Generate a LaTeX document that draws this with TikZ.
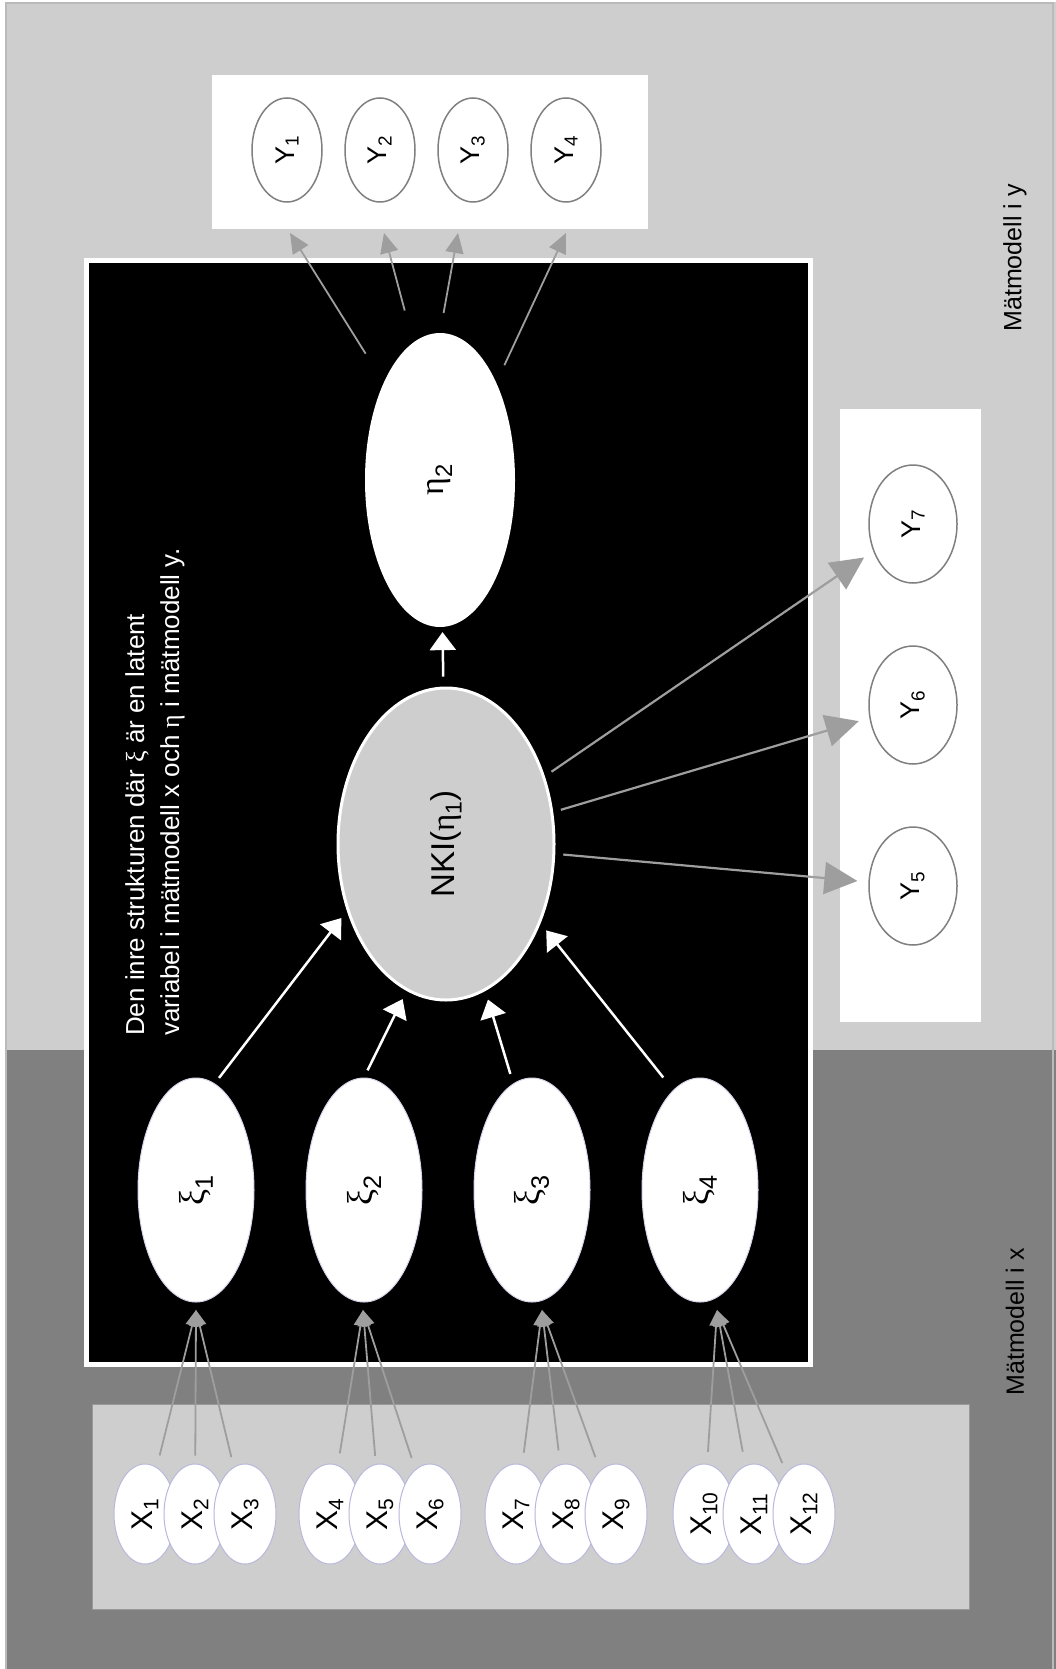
\documentclass[tikz,border=0pt]{standalone}
\usepackage{fontspec}
\setmainfont{Liberation Sans}
\newfontfamily\greekfont{Liberation Serif}
\usepackage{graphicx}
\usetikzlibrary{shapes.geometric, arrows.meta, positioning}
\definecolor{lightbg}{RGB}{206,206,206}
\definecolor{darkbg}{RGB}{128,128,128}
\definecolor{framegray}{RGB}{186,186,186}
\definecolor{arrowgray}{RGB}{158,158,158}
\definecolor{rimblue}{RGB}{184,184,220}
\newcommand{\rt}[1]{\rotatebox{90}{#1}}
\newcommand{\gr}[1]{{\greekfont #1}}
\tikzset{
    latent/.style={ellipse, fill=white, draw=rimblue!60, line width=1pt, minimum width=116pt, minimum height=224pt, inner sep=0pt, font=\fontsize{36}{40}\selectfont},
    etanode/.style={ellipse, fill=white, minimum width=150pt, minimum height=294pt, inner sep=0pt, font=\fontsize{34}{38}\selectfont},
    nkinode/.style={ellipse, fill=lightbg, draw=white, line width=3pt, minimum width=216pt, minimum height=312pt, inner sep=0pt, font=\fontsize{33}{37}\selectfont},
    yvar/.style={ellipse, fill=white, draw=gray, line width=1.5pt, minimum width=70pt, minimum height=104pt, inner sep=0pt, font=\fontsize{27}{30}\selectfont},
    yvarb/.style={yvar, minimum width=88pt, minimum height=118pt},
    xvar/.style={ellipse, fill=white, draw=rimblue, line width=1pt, minimum width=62pt, minimum height=100pt, inner sep=0pt, font=\fontsize{30}{34}\selectfont},
    grayarrow/.style={draw=arrowgray, line width=1.8pt, -{Triangle[length=16pt, width=13pt]}},
    midarrow/.style={draw=arrowgray, line width=1.8pt, -{Triangle[length=20pt, width=18pt]}},
    bigarrow/.style={draw=arrowgray, line width=2.2pt, -{Triangle[length=33pt, width=32pt]}},
    whitearrow/.style={draw=white, line width=2.5pt, -{Triangle[length=18pt, width=26pt]}},
    sidelabel/.style={rotate=90, inner sep=0pt, font=\fontsize{25}{30}\selectfont},
}

\begin{document}
\begin{tikzpicture}[x=1pt, y=-1pt, node distance=50pt]
  \useasboundingbox (0,0) rectangle (1056,1669);
  % backgrounds
  \fill[white] (0,0) rectangle (1056,1669);
  \fill[lightbg] (5,2) rectangle (1056,1050);
  \fill[darkbg] (5,1050) rectangle (1056,1669);
  \draw[framegray, line width=2pt] (6,1669) -- (6,3) -- (1053,3) -- (1053,1669);
  \fill[white] (212,75) rectangle (648,229);
  \fill[white] (840,409) rectangle (981,1022);
  \filldraw[fill=black, draw=white, line width=5pt] (86.5,260.5) rectangle (810.5,1364.5);
  \filldraw[fill=lightbg, draw=gray!80, line width=1pt] (92,1404) rectangle (969,1609);

  % structural model
  \node[etanode] (eta2) at (440,480) {\rt{\gr{η}\textsubscript{2}}};
  \node[nkinode] (NKI) at (446,844) {\rt{NKI(\gr{η}\textsubscript{1})}};
  \node[latent] (xi1) at (196,1190) {\rt{\gr{ξ}\textsubscript{1}}};
  \node[latent, node distance=168pt] (xi2) [right of=xi1] {\rt{\gr{ξ}\textsubscript{2}}};
  \node[latent, node distance=168pt] (xi3) [right of=xi2] {\rt{\gr{ξ}\textsubscript{3}}};
  \node[latent, node distance=168pt] (xi4) [right of=xi3] {\rt{\gr{ξ}\textsubscript{4}}};

  % measurement model y
  \node[yvar] (Y1) at (287,150) {\rt{Y\textsubscript{1}}};
  \node[yvar, node distance=93pt] (Y2) [right of=Y1] {\rt{Y\textsubscript{2}}};
  \node[yvar, node distance=93pt] (Y3) [right of=Y2] {\rt{Y\textsubscript{3}}};
  \node[yvar, node distance=93pt] (Y4) [right of=Y3] {\rt{Y\textsubscript{4}}};
  \node[yvarb] (Y5) at (913,886) {\rt{Y\textsubscript{5}}};
  \node[yvarb, node distance=181pt] (Y6) [above of=Y5] {\rt{Y\textsubscript{6}}};
  \node[yvarb, node distance=181pt] (Y7) [above of=Y6] {\rt{Y\textsubscript{7}}};

  % measurement model x
  \node[xvar] (X1) at (145,1514) {\rt{X\textsubscript{1}}};
  \node[xvar] (X2) [right of=X1] {\rt{X\textsubscript{2}}};
  \node[xvar] (X3) [right of=X2] {\rt{X\textsubscript{3}}};
  \node[xvar, node distance=85pt] (X4) [right of=X3] {\rt{X\textsubscript{4}}};
  \node[xvar] (X5) [right of=X4] {\rt{X\textsubscript{5}}};
  \node[xvar] (X6) [right of=X5] {\rt{X\textsubscript{6}}};
  \node[xvar, node distance=86pt] (X7) [right of=X6] {\rt{X\textsubscript{7}}};
  \node[xvar] (X8) [right of=X7] {\rt{X\textsubscript{8}}};
  \node[xvar] (X9) [right of=X8] {\rt{X\textsubscript{9}}};
  \node[xvar, node distance=88pt] (X10) [right of=X9] {\rt{X\textsubscript{10}}};
  \node[xvar] (X11) [right of=X10] {\rt{X\textsubscript{11}}};
  \node[xvar] (X12) [right of=X11] {\rt{X\textsubscript{12}}};

  % texts
  \node[sidelabel] (mmy) at (1015,258) {Mätmodell i y};
  \node[sidelabel] (mmx) at (1015,1322) {Mätmodell i x};
  \node[rotate=90, anchor=west, align=left, text=white, inner sep=0pt, font=\fontsize{26}{35}\selectfont] (note) at (155,1036)
    {Den inre strukturen där \gr{ξ} är en latent\\variabel i mätmodell x och \gr{η} i mätmodell y.};

  % arrow ports
  \coordinate (y1in) at (290,233);
  \coordinate (y2in) at (384,233);
  \coordinate (y3in) at (458,233);
  \coordinate (y4in) at (566,233);
  \coordinate (xi1in) at (196,1310);
  \coordinate (xi2in) at (363,1310);
  \coordinate (xi3in) at (542,1310);
  \coordinate (xi4in) at (717,1310);

  % structural paths
  \draw[whitearrow, shorten <=10pt, shorten >=5pt] (NKI) -- (eta2);
  \draw[whitearrow, shorten <=7pt, shorten >=9pt] (xi1.80) -- (NKI.214);
  \draw[whitearrow, shorten <=8pt, shorten >=9pt] (xi2.90) -- (NKI.255);
  \draw[whitearrow, shorten <=10pt, shorten >=9pt] (xi3.100) -- (NKI.285);
  \draw[whitearrow, shorten <=16pt, shorten >=9pt] (xi4.105) -- (NKI.320);

  % loadings y
  \draw[midarrow, shorten <=34pt] (eta2.120) -- (y1in);
  \draw[midarrow, shorten <=33pt] (eta2.101) -- (y2in);
  \draw[midarrow, shorten <=20pt] (eta2.90) -- (y3in);
  \draw[midarrow, shorten <=19pt] (eta2.60) -- (y4in);
  \draw[bigarrow, shorten <=8pt, shorten >=11pt] (NKI) -- (Y5);
  \draw[bigarrow, shorten <=8pt, shorten >=11pt] (NKI) -- (Y6);
  \draw[bigarrow, shorten <=8pt, shorten >=11pt] (NKI) -- (Y7);

  % loadings x
  \draw[grayarrow, shorten <=12pt] (X1) -- (xi1in);
  \draw[grayarrow, shorten <=8pt] (X2) -- (xi1in);
  \draw[grayarrow, shorten <=10pt] (X3) -- (xi1in);
  \draw[grayarrow, shorten <=12pt] (X4) -- (xi2in);
  \draw[grayarrow, shorten <=8pt] (X5) -- (xi2in);
  \draw[grayarrow, shorten <=12pt] (X6) -- (xi2in);
  \draw[grayarrow, shorten <=12pt] (X7) -- (xi3in);
  \draw[grayarrow, shorten <=14pt] (X8) -- (xi3in);
  \draw[grayarrow, shorten <=14pt] (X9) -- (xi3in);
  \draw[grayarrow, shorten <=12pt] (X10) -- (xi4in);
  \draw[grayarrow, shorten <=14pt] (X11) -- (xi4in);
  \draw[grayarrow, shorten <=10pt] (X12) -- (xi4in);
\end{tikzpicture}
\end{document}
